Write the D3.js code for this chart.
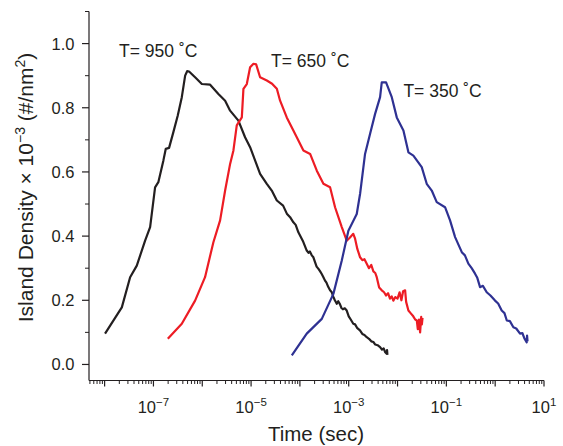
<!DOCTYPE html>
<html>
<head>
<meta charset="utf-8">
<script src="https://cdn.jsdelivr.net/npm/d3@7"></script>
<style>
  html, body { margin: 0; padding: 0; background: #fff; }
  svg { display: block; font-family: "Liberation Sans", Arial, Helvetica, sans-serif; }
</style>
</head>
<body>
<svg id="chart" width="563" height="446"></svg>
<script>
// ---- data (time in seconds, island density ×10^-3 #/nm^2) ----
const t950 = [1.02e-8, 2.25e-8, 3.33e-8, 4.56e-8, 6.75e-8, 8.55e-8, 1.08e-7, 1.26e-7, 1.60e-7, 1.79e-7, 2.09e-7, 2.56e-7, 3.15e-7, 3.81e-7, 4.46e-7, 4.90e-7, 5.37e-7, 7.13e-7, 9.8e-7, 1.45e-6, 2.14e-6, 2.94e-6, 3.72e-6, 5.5e-6, 7.53e-6, 9.55e-6, 1.25e-5, 1.53e-5, 2.10e-5, 2.7e-5, 3.37e-5, 4.53e-5, 5.4e-5, 6.3e-5, 7.35e-5, 8.2e-5, 9.3e-5, 1.15e-4, 1.38e-4,
  1.5e-4, 1.6e-4, 1.75e-4, 1.89e-4, 2.05e-4, 2.2e-4, 2.4e-4, 2.6e-4, 2.8e-4, 3.03e-4, 3.25e-4, 3.5e-4, 3.8e-4, 4.15e-4, 4.5e-4, 4.8e-4, 5.2e-4, 5.69e-4, 6.1e-4, 6.6e-4, 7.1e-4, 7.6e-4, 8.3e-4, 9.1e-4, 1.0e-3, 1.1e-3, 1.24e-3, 1.35e-3, 1.5e-3, 1.7e-3, 1.9e-3, 2.1e-3, 2.34e-3, 2.6e-3, 2.9e-3, 3.2e-3, 3.5e-3, 3.9e-3, 4.39e-3, 4.8e-3, 5.2e-3, 5.6e-3, 6.0e-3, 6.1e-3, 6.2e-3];
const d950 = [0.096, 0.178, 0.272, 0.308, 0.386, 0.428, 0.552, 0.568, 0.636, 0.672, 0.675, 0.724, 0.776, 0.833, 0.900, 0.914, 0.913, 0.895, 0.874, 0.872, 0.843, 0.822, 0.791, 0.760, 0.708, 0.677, 0.630, 0.594, 0.563, 0.540, 0.511, 0.495, 0.470, 0.459, 0.443, 0.435, 0.412, 0.385, 0.355,
  0.348, 0.352, 0.340, 0.334, 0.318, 0.305, 0.298, 0.290, 0.282, 0.272, 0.262, 0.255, 0.242, 0.231, 0.225, 0.212, 0.200, 0.189, 0.197, 0.188, 0.176, 0.172, 0.175, 0.168, 0.150, 0.140, 0.127, 0.125, 0.113, 0.106, 0.095, 0.092, 0.085, 0.080, 0.072, 0.070, 0.062, 0.060, 0.054, 0.046, 0.050, 0.038, 0.033, 0.045, 0.030];

const t650 = [1.97e-7, 3.81e-7, 7.13e-7, 1.14e-6, 1.69e-6, 2.32e-6, 2.94e-6, 3.72e-6, 4.35e-6, 5.09e-6, 6.46e-6, 6.97e-6, 8.17e-6, 9.55e-6, 1.12e-5, 1.27e-5, 1.53e-5, 2.10e-5, 2.69e-5, 3.37e-5, 3.93e-5, 5.38e-5, 7.35e-5, 8.63e-5, 1.18e-4, 1.62e-4, 2.22e-4, 3.03e-4, 4.15e-4, 5.25e-4, 7.21e-4, 9.1e-4,
  1.05e-3, 1.24e-3, 1.35e-3, 1.5e-3, 1.71e-3, 1.9e-3, 2.1e-3, 2.34e-3, 2.6e-3, 2.9e-3, 3.2e-3, 3.5e-3, 3.75e-3, 4.2e-3, 4.75e-3, 5.3e-3, 5.8e-3, 6.4e-3, 7.0e-3, 7.6e-3, 8.2e-3, 9.0e-3, 1.0e-2, 1.1e-2, 1.2e-2, 1.3e-2, 1.43e-2, 1.5e-2, 1.67e-2, 1.85e-2, 2.1e-2, 2.3e-2, 2.48e-2, 2.6e-2, 2.75e-2, 2.9e-2, 3.05e-2, 3.15e-2, 3.25e-2];
const d650 = [0.080, 0.127, 0.199, 0.272, 0.381, 0.449, 0.542, 0.625, 0.667, 0.745, 0.770, 0.859, 0.874, 0.926, 0.937, 0.935, 0.895, 0.885, 0.875, 0.859, 0.822, 0.770, 0.729, 0.708, 0.667, 0.656, 0.604, 0.563, 0.552, 0.490, 0.428, 0.386,
  0.395, 0.407, 0.392, 0.360, 0.334, 0.325, 0.328, 0.314, 0.300, 0.310, 0.290, 0.285, 0.272, 0.240, 0.231, 0.225, 0.215, 0.222, 0.205, 0.212, 0.199, 0.210, 0.205, 0.225, 0.200, 0.228, 0.231, 0.195, 0.168, 0.160, 0.150, 0.140, 0.137, 0.110, 0.140, 0.100, 0.148, 0.125, 0.145];

const t350 = [6.83e-5, 1.38e-4, 2.81e-4, 4.85e-4, 7.21e-4, 9.84e-4, 1.46e-3, 1.71e-3, 2.16e-3, 2.74e-3, 3.47e-3, 4.39e-3, 4.75e-3, 5.82e-3, 7.62e-3, 9.64e-3, 1.32e-2, 1.67e-2, 2.11e-2, 3.13e-2, 3.96e-2, 5.02e-2, 6.35e-2, 9.4e-2, 0.119, 0.151, 0.207,
  0.24, 0.282, 0.33, 0.387, 0.43, 0.49, 0.56, 0.671, 0.8, 0.993, 1.15, 1.36, 1.55, 1.73, 2.0, 2.36, 2.7, 3.23, 3.6, 4.0, 4.43, 4.5, 4.6];
const d350 = [0.028, 0.096, 0.142, 0.220, 0.324, 0.417, 0.469, 0.532, 0.656, 0.719, 0.781, 0.833, 0.879, 0.879, 0.833, 0.770, 0.729, 0.661, 0.651, 0.615, 0.563, 0.542, 0.506, 0.490, 0.449, 0.397, 0.350,
  0.340, 0.314, 0.300, 0.283, 0.270, 0.241, 0.245, 0.225, 0.215, 0.199, 0.190, 0.168, 0.160, 0.137, 0.135, 0.116, 0.112, 0.096, 0.098, 0.080, 0.069, 0.090, 0.072];

const seriesLabels = ["T= 950 \u02DAC", "T= 650 \u02DAC", "T= 350 \u02DAC"];
const seriesColors = ["#231f20", "#ed1c24", "#2e3192"];
const xMajorExp = [-8, -7, -6, -5, -4, -3, -2, -1, 0, 1];
const xLabelExp = [-7, -5, -3, -1, 1];
const yMajorTicks = [0.0, 0.2, 0.4, 0.6, 0.8, 1.0];
const yMinorTicks = [0.1, 0.3, 0.5, 0.7, 0.9, 1.1];
// label anchor points (time, density) for each curve label (left/baseline)
const labelT = [1.98e-8, 2.57e-5, 1.32e-2];
const labelD = [0.958, 0.928, 0.835];

// ---- layout ----
const svg = d3.select("#chart");
const x = d3.scaleLog().domain([Math.pow(10, -8.32), 10]).range([89, 544]);
const y = d3.scaleLinear().domain([-0.05, 1.1]).range([380.5, 11.5]);
const ink = "#231f20";

// minor x ticks
const xMinor = [];
for (let e = -9; e <= 0; e++) for (let m = 2; m <= 9; m++) {
  const v = m * Math.pow(10, e);
  if (v >= x.domain()[0] && v <= x.domain()[1]) xMinor.push(v);
}
const x0 = 380.5;

const gx = svg.append("g");
gx.append("line").attr("x1", 89).attr("x2", 544).attr("y1", x0).attr("y2", x0)
  .attr("stroke", ink).attr("stroke-width", 1.2);
gx.selectAll("line.minor").data(xMinor).enter().append("line")
  .attr("x1", d => x(d)).attr("x2", d => x(d)).attr("y1", x0).attr("y2", x0 + 3.5)
  .attr("stroke", ink).attr("stroke-width", 1);
gx.selectAll("line.major").data(xMajorExp).enter().append("line")
  .attr("x1", d => x(Math.pow(10, d))).attr("x2", d => x(Math.pow(10, d)))
  .attr("y1", x0).attr("y2", x0 + 6)
  .attr("stroke", ink).attr("stroke-width", 1.2);
const xl = gx.selectAll("text.xl").data(xLabelExp).enter().append("text")
  .attr("x", d => x(Math.pow(10, d))).attr("y", 413)
  .attr("text-anchor", "middle").attr("fill", ink).attr("font-size", 16.5);
xl.append("tspan").text("10");
xl.append("tspan").attr("dy", -7).attr("font-size", 11.5).text(d => d < 0 ? "\u2212" + (-d) : String(d));

svg.append("text").attr("x", 316).attr("y", 441).attr("text-anchor", "middle")
  .attr("fill", ink).attr("font-size", 20.5).text("Time (sec)");

// y axis
const gy = svg.append("g");
gy.append("line").attr("x1", 89).attr("x2", 89).attr("y1", 11.5).attr("y2", x0)
  .attr("stroke", ink).attr("stroke-width", 1.2);
gy.selectAll("line.ymin").data(yMinorTicks).enter().append("line")
  .attr("x1", 85).attr("x2", 89).attr("y1", d => y(d)).attr("y2", d => y(d))
  .attr("stroke", ink).attr("stroke-width", 1);
gy.selectAll("line.ymaj").data(yMajorTicks).enter().append("line")
  .attr("x1", 82).attr("x2", 89).attr("y1", d => y(d)).attr("y2", d => y(d))
  .attr("stroke", ink).attr("stroke-width", 1.2);
gy.selectAll("text.yl").data(yMajorTicks).enter().append("text")
  .attr("x", 74.5).attr("y", d => y(d) + 6).attr("text-anchor", "end")
  .attr("fill", ink).attr("font-size", 16.5).text(d => d3.format(".1f")(d));

const yt = svg.append("text").attr("transform", "translate(33,187.5) rotate(-90)")
  .attr("text-anchor", "middle").attr("fill", ink).attr("font-size", 21);
yt.append("tspan").text("Island Density \u00D7 10");
yt.append("tspan").attr("dy", -8).attr("font-size", 14).text("\u22123");
yt.append("tspan").attr("dy", 8).text(" (#/nm");
yt.append("tspan").attr("dy", -8).attr("font-size", 14).text("2");
yt.append("tspan").attr("dy", 8).text(")");

// curves
const series = [[t950, d950], [t650, d650], [t350, d350]];
const line = d3.line().x(d => x(d[0])).y(d => y(d[1]));
series.forEach((s, i) => {
  const pts = s[0].map((t, k) => [t, s[1][k]]);
  svg.append("path").datum(pts).attr("d", line)
    .attr("fill", "none").attr("stroke", seriesColors[i])
    .attr("stroke-width", 2.2).attr("stroke-linejoin", "round");
  svg.append("text").attr("x", x(labelT[i])).attr("y", y(labelD[i]))
    .attr("fill", ink).attr("font-size", 17.5).text(seriesLabels[i]);
});
</script>
</body>
</html>
